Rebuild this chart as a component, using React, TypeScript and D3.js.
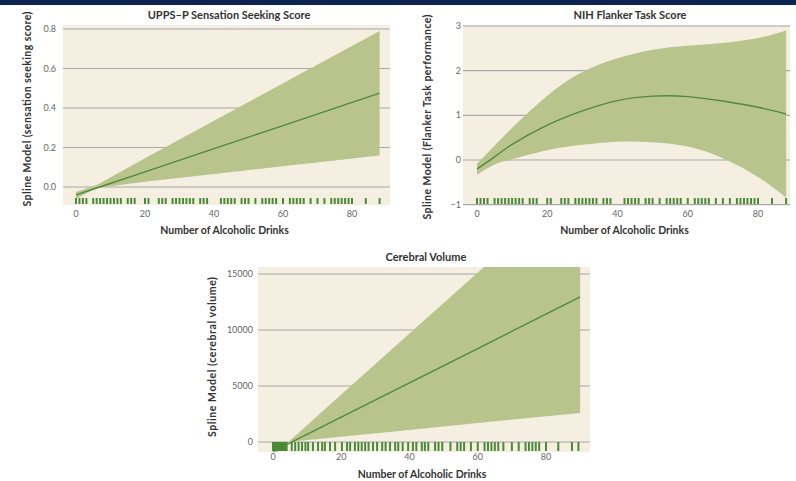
import React from "react";
import * as d3 from "d3";

// ---- Data ----
// Drinks observed in the sample (rug marks)
const rugDrinks = [0, 1, 2, 3, 5, 6, 7, 8, 9, 10, 11, 12, 13, 15, 16, 17, 20, 21, 24, 25, 26, 28, 29, 30, 31, 32, 33, 34, 36, 37, 38, 42, 43, 44, 45, 46, 48, 49, 50, 52, 54, 55, 56, 57, 58, 60, 62, 63, 64, 65, 66, 68, 70, 72, 74, 75, 76, 77, 78, 79, 80, 84, 88];
const rugDrinksVolume = [0, 0.25, 0.5, 0.75, 1, 1.25, 1.5, 1.75, 2, 2.25, 2.5, 2.75, 3, 3.5, 4, 5.5, 6.5, 7.5, 8.5, 9.5, 10.3, 11.7, 13.2, 14.4, 15.2, 16.7, 18.2, 20.2, 21.7, 22.6, 24, 25, 26, 27, 28, 29.3, 30.5, 32, 33, 34.3, 35.8, 36.7, 38, 39.6, 41, 42, 43.6, 44.5, 45.5, 47.5, 48.5, 49.6, 52, 54, 55, 56, 58, 60, 62, 63, 64, 65, 66, 67.5, 70, 72, 74, 75, 76, 77, 78, 80, 83.6, 87.6, 89.5];

// UPPS-P sensation seeking
const sensX = [0, 6, 20, 40, 60, 88];
const sensFit = [-0.04, -0.005, 0.077, 0.194, 0.311, 0.475];
const sensLo = [-0.06, -0.005, 0.027, 0.066, 0.105, 0.16];
const sensHi = [-0.025, 0.01, 0.145, 0.335, 0.525, 0.79];
const sensTicks = [0, 0.2, 0.4, 0.6, 0.8];

// NIH Flanker task
const flankX = [0, 5, 10, 20, 30, 40, 50, 60, 70, 80, 88];
const flankFit = [-0.2, 0.07, 0.35, 0.78, 1.1, 1.33, 1.43, 1.42, 1.32, 1.18, 1.03];
const flankLo = [-0.33, -0.1, 0.02, 0.22, 0.34, 0.41, 0.4, 0.3, 0.04, -0.38, -0.84];
const flankHi = [-0.08, 0.32, 0.72, 1.44, 1.97, 2.28, 2.47, 2.56, 2.62, 2.73, 2.9];
const flankTicks = [-1, 0, 1, 2, 3];

// Cerebral volume
const volX = [0, 5, 20, 40, 60, 90];
const volFit = [-840, -75, 2220, 5280, 8340, 12950];
const volLo = [-137, 15, 470, 1080, 1690, 2600];
const volHi = [-1230, 140, 4230, 9680, 15140, 23300];
const volTicks = [0, 5000, 10000, 15000];

const drinkTicks = [0, 20, 40, 60, 80];

const BG = "#f5efe2";
const BAND = "#b9c48c";
const LINE = "#4f8a3c";
const RUG = "#4b8a37";
const GRID = "#a8a8a8";
const TEXT = "#333333";
const TICKTEXT = "#666666";
const FONT = "Lato, 'Open Sans', sans-serif";

type PanelProps = {
  id: string;
  title: string;
  yTitle: string;
  yTitleLen: number;
  box: { x0: number; x1: number; y0: number; y1: number };
  xRange: [number, number];
  yDomainPx: { v0: number; p0: number; v1: number; p1: number };
  xs: number[];
  fit: number[];
  lo: number[];
  hi: number[];
  yTicks: number[];
  yFormat: (v: number) => string;
  rug: number[];
  rugTop: number;
  rugBottom: number;
  titleY: number;
  titleX: number;
  yTitleX: number;
  yTitleY: number;
  yLabelRight: number;
  xLabelY: number;
  xTitleY: number;
  curve: d3.CurveFactory;
};

function Panel(p: PanelProps) {
  const x = d3.scaleLinear().domain([0, 80]).range(p.xRange);
  const y = d3
    .scaleLinear()
    .domain([p.yDomainPx.v0, p.yDomainPx.v1])
    .range([p.yDomainPx.p0, p.yDomainPx.p1]);
  const rows = p.xs.map((v, i) => ({ x: v, fit: p.fit[i], lo: p.lo[i], hi: p.hi[i] }));
  const area = d3
    .area<{ x: number; lo: number; hi: number }>()
    .x((d) => x(d.x))
    .y0((d) => y(d.lo))
    .y1((d) => y(d.hi))
    .curve(p.curve);
  const line = d3
    .line<{ x: number; fit: number }>()
    .x((d) => x(d.x))
    .y((d) => y(d.fit))
    .curve(p.curve);
  const { x0, x1, y0, y1 } = p.box;
  const clipId = `clip-${p.id}`;
  return (
    <g>
      <defs>
        <clipPath id={clipId}>
          <rect x={x0} y={y0} width={x1 - x0} height={y1 - y0} />
        </clipPath>
      </defs>
      <rect x={x0} y={y0} width={x1 - x0} height={y1 - y0} fill={BG} />
      {p.yTicks.map((t) => (
        <line key={t} x1={x0} x2={x1} y1={y(t)} y2={y(t)} stroke={GRID} strokeWidth={1.2} />
      ))}
      <g clipPath={`url(#${clipId})`}>
        <path d={area(rows) ?? ""} fill={BAND} />
        <path d={line(rows) ?? ""} fill="none" stroke={LINE} strokeWidth={1.4} />
      </g>
      {p.rug.map((r, i) => (
        <line
          key={i}
          x1={x(r)}
          x2={x(r)}
          y1={p.rugTop}
          y2={p.rugBottom}
          stroke={RUG}
          strokeWidth={2}
        />
      ))}
      {p.yTicks.map((t) => (
        <text
          key={t}
          x={p.yLabelRight}
          y={y(t)}
          dy="0.35em"
          textAnchor="end"
          fontFamily={FONT}
          fontSize={9}
          fill={TICKTEXT}
        >
          {p.yFormat(t)}
        </text>
      ))}
      {drinkTicks.map((t) => (
        <text
          key={t}
          x={x(t)}
          y={p.xLabelY}
          dy="0.35em"
          textAnchor="middle"
          fontFamily={FONT}
          fontSize={9}
          fill={TICKTEXT}
        >
          {t}
        </text>
      ))}
      <text
        x={p.titleX}
        y={p.titleY}
        dy="0.35em"
        textAnchor="middle"
        fontFamily={FONT}
        fontWeight={700}
        fontSize={11}
        fill={TEXT}
      >
        {p.title}
      </text>
      <text
        x={(x0 + x1) / 2 - 2}
        y={p.xTitleY}
        dy="0.35em"
        textAnchor="middle"
        fontFamily={FONT}
        fontWeight={700}
        fontSize={10.5}
        fill={TEXT}
      >
        Number of Alcoholic Drinks
      </text>
      <text
        transform={`translate(${p.yTitleX},${p.yTitleY}) rotate(-90)`}
        dy="0.35em"
        textAnchor="middle"
        fontFamily={FONT}
        fontWeight={700}
        fontSize={10.5}
        textLength={p.yTitleLen}
        lengthAdjust="spacing"
        fill={TEXT}
      >
        {p.yTitle}
      </text>
    </g>
  );
}

export default function App() {
  const fmt1 = d3.format(".1f");
  const fmtInt = (v: number) => (v < 0 ? "\u2212" + Math.abs(v) : String(v));
  return (
    <div style={{ position: "absolute", left: 0, top: 0 }}>
      <svg width={796} height={481} style={{ display: "block", background: "#ffffff" }}>
        <rect x={0} y={0} width={796} height={5} fill="#0e2350" />
        <Panel
          id="sens"
          title="UPPS–P Sensation Seeking Score"
          yTitle="Spline Model (sensation seeking score)"
          yTitleLen={195}
          box={{ x0: 63, x1: 390, y0: 25, y1: 205 }}
          xRange={[76, 352]}
          yDomainPx={{ v0: 0, p0: 187, v1: 0.8, p1: 29 }}
          xs={sensX}
          fit={sensFit}
          lo={sensLo}
          hi={sensHi}
          yTicks={sensTicks}
          yFormat={fmt1}
          rug={rugDrinks}
          rugTop={198}
          rugBottom={204}
          titleX={229}
          titleY={15}
          yTitleX={27}
          yTitleY={109}
          yLabelRight={56}
          xLabelY={214}
          xTitleY={230}
          curve={d3.curveLinear}
        />
        <Panel
          id="flank"
          title="NIH Flanker Task Score"
          yTitle="Spline Model (Flanker Task performance)"
          yTitleLen={205}
          box={{ x0: 463, x1: 790, y0: 25, y1: 205 }}
          xRange={[477, 758]}
          yDomainPx={{ v0: 0, p0: 160, v1: 3, p1: 26 }}
          xs={flankX}
          fit={flankFit}
          lo={flankLo}
          hi={flankHi}
          yTicks={flankTicks}
          yFormat={fmtInt}
          rug={rugDrinks}
          rugTop={198}
          rugBottom={204}
          titleX={630}
          titleY={15}
          yTitleX={427}
          yTitleY={117}
          yLabelRight={461}
          xLabelY={214}
          xTitleY={230}
          curve={d3.curveNatural}
        />
        <Panel
          id="vol"
          title="Cerebral Volume"
          yTitle="Spline Model (cerebral volume)"
          yTitleLen={160}
          box={{ x0: 258, x1: 590, y0: 267, y1: 452 }}
          xRange={[273, 546]}
          yDomainPx={{ v0: 0, p0: 442, v1: 15000, p1: 274 }}
          xs={volX}
          fit={volFit}
          lo={volLo}
          hi={volHi}
          yTicks={volTicks}
          yFormat={(v) => String(v)}
          rug={rugDrinksVolume}
          rugTop={442}
          rugBottom={451}
          titleX={426}
          titleY={257}
          yTitleX={212}
          yTitleY={357}
          yLabelRight={253}
          xLabelY={457}
          xTitleY={474}
          curve={d3.curveLinear}
        />
      </svg>
    </div>
  );
}
